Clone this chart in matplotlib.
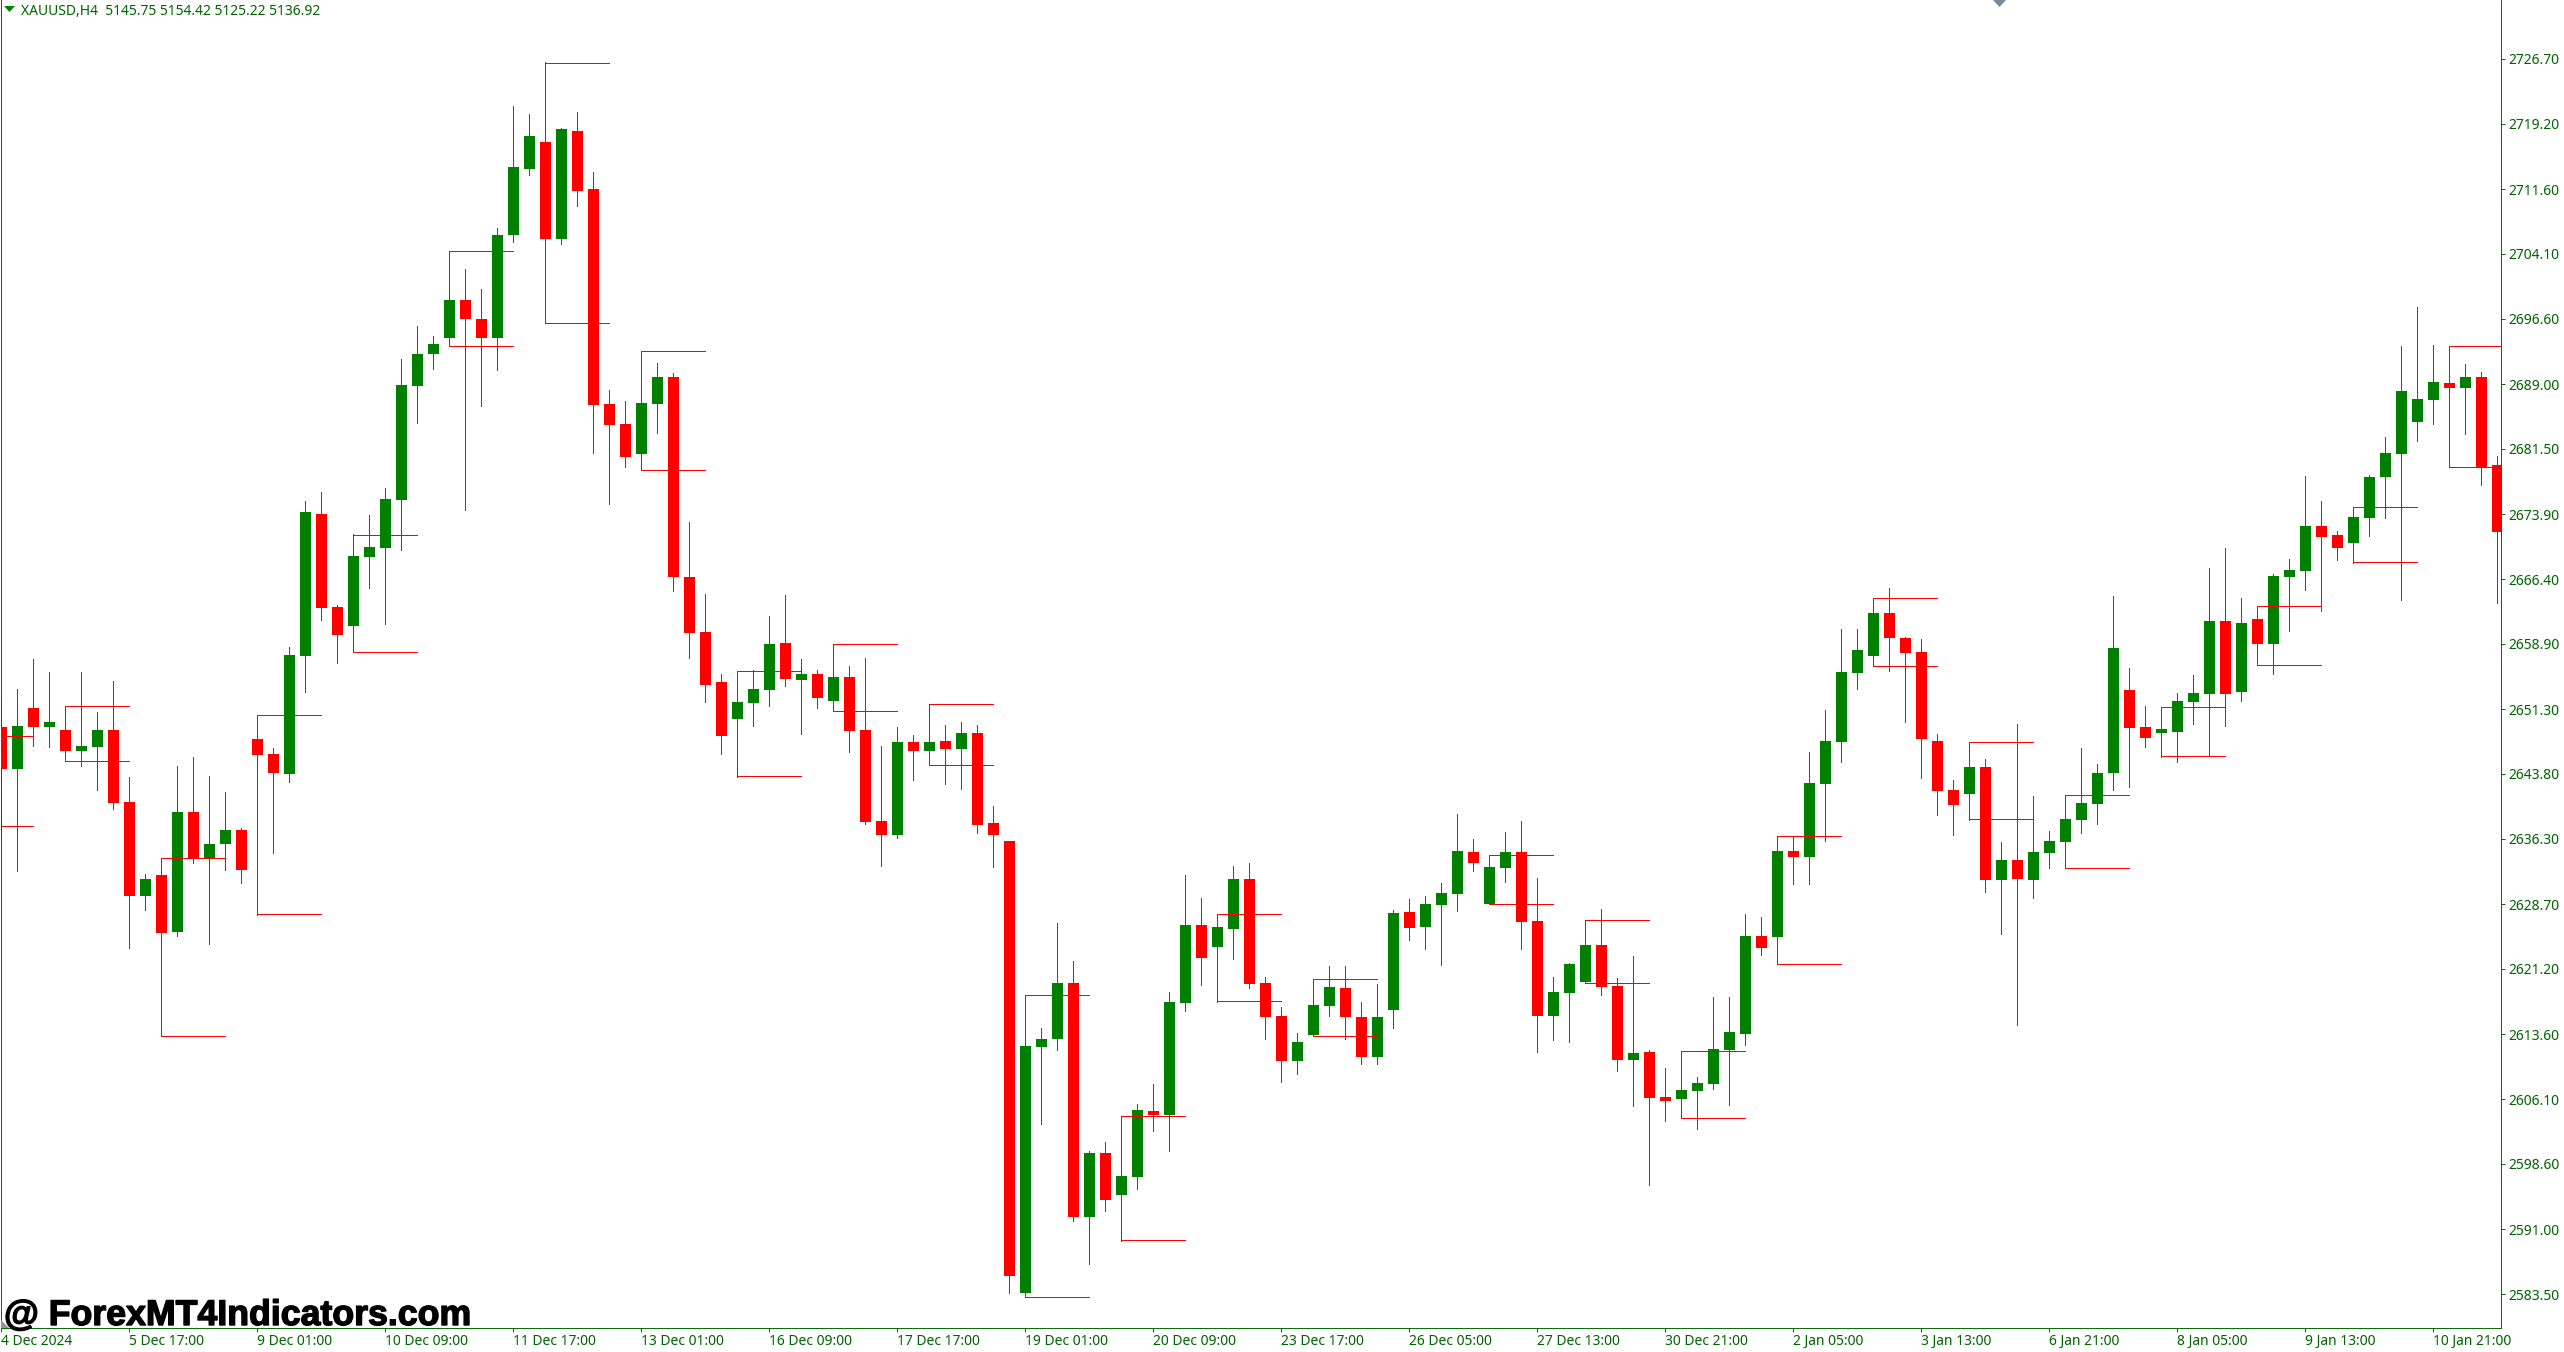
import matplotlib
matplotlib.use('Agg')
import matplotlib.pyplot as plt
from matplotlib.patches import Polygon
import matplotlib.patheffects as pe

high = [2652.4,2653.6,2657.1,2655.6,2651.7,2655.6,2651.0,2654.6,2643.4,2632.2,2634.0,2644.7,2645.8,2643.6,2641.7,2637.5,2650.6,2646.8,2658.5,2675.5,
2676.5,2663.4,2671.6,2673.8,2676.9,2691.9,2695.7,2694.6,2704.4,2702.3,2700.0,2707.1,2721.2,2720.3,2726.3,2718.7,2720.5,2713.6,2688.3,2687.0,
2692.8,2691.5,2690.3,2673.0,2664.7,2655.4,2655.7,2655.8,2662.1,2664.6,2657.1,2655.9,2658.8,2656.3,2657.2,2647.0,2649.2,2648.3,2651.9,2649.5,
2649.8,2649.5,2640.1,2636.0,2618.2,2614.3,2626.5,2622.1,2600.1,2601.1,2604.1,2605.5,2607.8,2618.5,2632.1,2629.4,2627.6,2633.1,2633.5,2620.3,
2616.8,2613.8,2620.0,2621.5,2621.5,2617.4,2619.4,2628.0,2629.3,2629.6,2631.2,2639.2,2636.3,2634.4,2637.1,2638.3,2631.7,2620.3,2621.9,2626.8,
2628.1,2620.1,2622.7,2611.8,2609.7,2611.6,2608.7,2617.9,2617.9,2627.6,2627.2,2636.6,2636.6,2646.3,2651.2,2660.6,2660.6,2664.2,2665.4,2659.7,
2659.4,2648.4,2643.1,2647.5,2645.5,2635.9,2649.6,2641.2,2637.2,2641.3,2646.8,2645.0,2664.4,2656.1,2651.7,2651.6,2653.2,2655.3,2667.7,2670.0,
2664.2,2663.2,2667.0,2668.7,2678.3,2675.4,2672.0,2674.7,2678.5,2682.9,2693.4,2697.9,2693.5,2693.4,2691.3,2690.4,2680.7]
opens = [2649.3,2644.4,2651.5,2649.2,2648.9,2646.5,2646.9,2648.9,2640.6,2629.7,2632.1,2625.5,2639.4,2634.0,2635.7,2637.3,2647.8,2646.1,2643.8,2657.5,
2674.0,2663.2,2660.9,2669.0,2670.0,2675.6,2688.8,2692.5,2694.3,2698.8,2696.6,2694.3,2706.3,2714.0,2717.1,2705.8,2718.4,2711.6,2686.7,2684.4,
2680.9,2686.7,2689.8,2666.6,2660.3,2654.5,2650.2,2652.0,2653.5,2659.0,2654.7,2655.4,2652.3,2655.0,2648.9,2638.3,2636.7,2647.5,2646.5,2647.6,
2646.7,2648.5,2638.1,2636.0,2583.6,2612.1,2613.1,2619.6,2592.4,2599.8,2595.0,2597.1,2604.7,2604.2,2617.2,2626.3,2623.7,2625.8,2631.6,2619.6,
2615.7,2610.5,2613.5,2616.9,2619.0,2615.6,2611.0,2616.4,2627.8,2626.1,2628.6,2629.9,2634.8,2628.7,2632.9,2634.8,2626.7,2615.7,2618.4,2619.7,
2624.0,2619.2,2610.6,2611.6,2606.3,2606.1,2607.0,2607.8,2611.8,2613.6,2625.0,2624.9,2634.9,2634.2,2642.6,2647.5,2655.5,2657.5,2662.5,2659.6,
2657.9,2647.6,2641.9,2641.5,2644.6,2631.5,2633.8,2631.5,2634.6,2635.9,2638.5,2640.3,2643.9,2653.5,2649.2,2648.5,2648.7,2652.1,2653.1,2661.5,
2653.3,2661.8,2658.9,2666.6,2667.3,2672.6,2671.5,2670.6,2673.5,2678.2,2680.9,2684.6,2687.2,2689.1,2688.6,2689.8,2679.6]
close = [2644.4,2649.4,2649.2,2649.8,2646.5,2647.1,2648.9,2640.4,2629.7,2631.6,2625.4,2639.4,2634.0,2635.7,2637.3,2632.7,2646.0,2643.9,2657.6,2674.2,
2663.1,2659.9,2669.1,2670.1,2675.7,2688.9,2692.5,2693.7,2698.8,2696.5,2694.3,2706.3,2714.2,2717.8,2705.8,2718.6,2711.4,2686.6,2684.3,2680.5,
2686.8,2689.8,2666.6,2660.1,2654.1,2648.2,2652.1,2653.7,2658.9,2654.8,2655.4,2652.6,2655.0,2648.8,2638.2,2636.7,2647.5,2646.5,2647.5,2646.7,
2648.5,2637.9,2636.7,2585.6,2612.3,2613.1,2619.6,2592.4,2599.8,2594.4,2597.2,2604.8,2604.2,2617.4,2626.3,2622.5,2626.1,2631.6,2619.4,2615.6,
2610.5,2612.7,2617.0,2619.1,2615.6,2611.0,2615.6,2627.7,2625.9,2628.7,2630.0,2634.9,2633.5,2633.0,2634.8,2626.6,2615.7,2618.5,2621.8,2624.0,
2619.1,2610.6,2611.4,2606.2,2605.9,2607.2,2608.0,2611.9,2613.9,2625.0,2623.6,2634.9,2634.2,2642.8,2647.6,2655.6,2658.2,2662.5,2659.6,2657.8,
2647.9,2641.8,2640.2,2644.6,2631.5,2633.8,2631.6,2634.8,2636.0,2638.6,2640.4,2643.9,2658.4,2649.1,2648.0,2649.0,2652.3,2653.2,2661.5,2653.1,
2661.3,2658.9,2666.8,2667.4,2672.6,2671.3,2670.0,2673.6,2678.2,2681.0,2688.2,2687.3,2689.2,2688.6,2689.8,2679.4,2671.9]
low = [2636.7,2632.5,2647.1,2646.9,2645.3,2644.7,2641.9,2639.7,2623.6,2628.0,2613.4,2625.0,2633.5,2624.1,2632.7,2631.2,2627.5,2634.6,2642.9,2653.3,
2661.7,2656.7,2657.9,2665.4,2661.2,2669.8,2684.5,2690.8,2693.4,2674.4,2686.5,2690.6,2705.5,2713.2,2696.1,2705.2,2709.7,2681.0,2675.1,2679.4,
2679.0,2683.3,2665.0,2657.2,2652.1,2646.1,2643.5,2649.4,2651.7,2654.0,2648.4,2651.4,2651.1,2646.3,2638.0,2633.1,2636.4,2643.1,2644.8,2642.6,
2642.1,2637.0,2633.0,2583.6,2583.1,2603.2,2611.8,2592.0,2587.0,2593.1,2589.7,2595.7,2602.4,2600.1,2616.3,2619.3,2617.4,2622.3,2619.0,2613.1,
2608.1,2609.0,2613.4,2615.7,2613.1,2610.2,2610.2,2614.3,2624.5,2623.5,2621.6,2627.9,2632.5,2628.7,2631.3,2623.5,2611.6,2613.0,2612.7,2619.6,
2618.2,2609.4,2605.3,2596.1,2603.6,2603.9,2602.6,2607.3,2605.4,2612.4,2622.8,2621.8,2631.0,2631.0,2636.0,2645.2,2653.7,2656.3,2655.7,2649.8,
2643.3,2639.0,2636.7,2638.5,2630.1,2625.2,2614.7,2629.4,2632.9,2632.9,2637.0,2638.0,2641.9,2642.3,2646.9,2645.8,2645.2,2649.6,2645.9,2649.4,
2652.3,2656.4,2655.4,2660.4,2665.1,2662.7,2668.6,2668.3,2671.4,2673.5,2664.0,2682.4,2684.4,2679.4,2683.2,2677.3,2663.6]
box_start = [-2,4,10,16,22,28,34,40,46,52,58,64,70,76,82,93,99,105,111,117,123,129,135,141,147,153]
box_upper = [2648.16,2651.66,2634.01,2650.61,2671.55,2704.4,2726.29,2692.8,2655.74,2658.83,2651.87,2618.17,2604.14,2627.56,2620.02,2634.44,2626.83,2611.64,2636.57,2664.16,2647.54,2641.32,2651.6,2663.24,2674.72,2693.42]
box_lower = [2637.76,2645.26,2613.37,2627.51,2657.91,2693.4,2696.1,2679.01,2643.52,2651.06,2644.84,2583.11,2589.72,2617.44,2613.42,2628.72,2619.6,2603.87,2621.76,2656.28,2638.54,2632.9,2645.84,2656.39,2668.34,2679.35]
box_span = 4
ytick_labels = ['2726.70','2719.20','2711.60','2704.10','2696.60','2689.00','2681.50','2673.90','2666.40','2658.90',
                '2651.30','2643.80','2636.30','2628.70','2621.20','2613.60','2606.10','2598.60','2591.00','2583.50']
xtick_labels = ['4 Dec 2024','5 Dec 17:00','9 Dec 01:00','10 Dec 09:00','11 Dec 17:00','13 Dec 01:00','16 Dec 09:00','17 Dec 17:00',
                '19 Dec 01:00','20 Dec 09:00','23 Dec 17:00','26 Dec 05:00','27 Dec 13:00','30 Dec 21:00','2 Jan 05:00','3 Jan 13:00',
                '6 Jan 21:00','8 Jan 05:00','9 Jan 13:00','10 Jan 21:00']
xtick_every = 8
header = 'XAUUSD,H4  5145.75 5154.42 5125.22 5136.92'
watermark = '@ ForexMT4Indicators.com'

plt.rcParams['font.family'] = ['Noto Sans', 'DejaVu Sans']
W, H = 2564, 1352
GREEN, RED, AXIS, TXT = '#008000', '#FF0000', '#006400', '#006400'
LW = 0.68
fig = plt.figure(figsize=(W/100, H/100), dpi=100)
ax = fig.add_axes([1/W, (H-1328)/H, 2500/W, 1328/H])
ax.set_xlim(-0.019, 156.23)
ax.set_ylim(2579.56, 2733.54)
n = len(close)
idx = list(range(n))
cols = [GREEN if close[i] > opens[i] else RED for i in idx]
ax.vlines(idx, low, high, colors=cols, linewidth=LW, antialiased=False, zorder=2)
ax.bar(idx, [abs(close[i]-opens[i]) for i in idx], bottom=[min(close[i], opens[i]) for i in idx],
       width=11/16, color=cols, linewidth=0, antialiased=False, zorder=3)
ends = [s + box_span for s in box_start]
ax.hlines(box_upper, box_start, ends, colors=RED, linewidth=LW, antialiased=False, zorder=4)
ax.hlines(box_lower, box_start, ends, colors=RED, linewidth=LW, antialiased=False, zorder=4)
ax.spines['top'].set_visible(False)
for s in ['left', 'right', 'bottom']:
    ax.spines[s].set_color(AXIS)
    ax.spines[s].set_linewidth(LW)
FS = 10.0
ax.yaxis.tick_right()
ax.set_yticks([float(t) for t in ytick_labels], ytick_labels)
ax.set_xticks(idx[::xtick_every], xtick_labels)
ax.tick_params(axis='both', direction='out', length=3, width=LW, color=AXIS, labelcolor=TXT, labelsize=FS, pad=2)
ax.tick_params(axis='x', pad=1.5)
for t in ax.get_xticklabels():
    t.set_ha('left')
px = lambda x, y: (x/W, 1-y/H)
fig.text(*px(21, 15), header, color=TXT, fontsize=FS, va='baseline', ha='left')
fig.text(*px(4, 1325), watermark, color='black', fontsize=25.7, family='Liberation Sans', fontweight='bold', va='baseline', ha='left',
         path_effects=[pe.withStroke(linewidth=1.0, foreground='black')], zorder=10)
fig.add_artist(Polygon([px(4, 6), px(15, 6), px(9.5, 12)], closed=True, transform=fig.transFigure, fc=GREEN, ec='none'))
fig.add_artist(Polygon([px(1993, 0), px(2006, 0), px(1999.5, 7)], closed=True, transform=fig.transFigure, fc='#778899', ec='none'))
fig.add_artist(Polygon([px(1, 1320), px(9, 1328), px(1, 1328)], closed=True, transform=fig.transFigure, fc='#8a9aa0', ec='none'))
fig.savefig('out.png', dpi=100, facecolor='white')
